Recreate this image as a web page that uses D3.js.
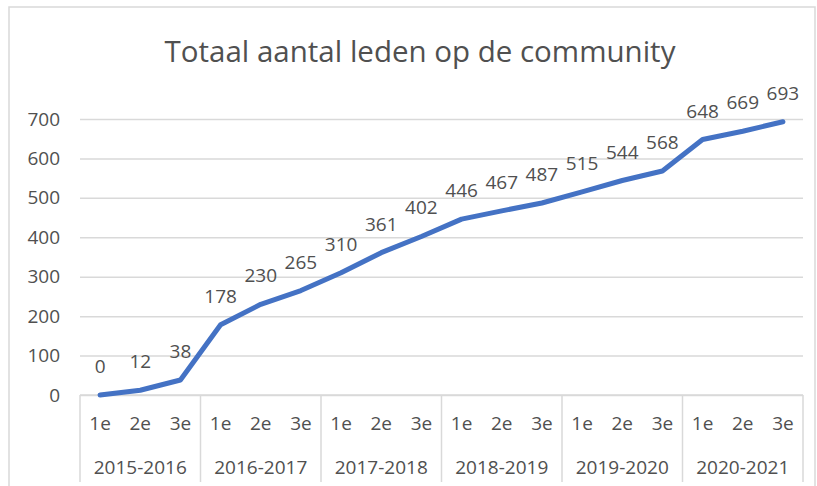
<!DOCTYPE html>
<html>
<head>
<meta charset="utf-8">
<script src="https://cdn.jsdelivr.net/npm/d3@7"></script>
<style>
    body { margin: 0; background: #fff; }
    svg text { font-family: "Open Sans", sans-serif; fill: #505050; }
</style>
</head>
<body>
<svg id="chart" width="817" height="486"></svg>
<script>
const chartTitle = "Totaal aantal leden op de community";
const seasons = ["2015-2016", "2016-2017", "2017-2018", "2018-2019", "2019-2020", "2020-2021"];
const periods = ["1e", "2e", "3e"];
const members = [0, 12, 38, 178, 230, 265, 310, 361, 402, 446, 467, 487, 515, 544, 568, 648, 669, 693];
const yTicks = [0, 100, 200, 300, 400, 500, 600, 700];

let svg = d3.select("#chart");
let margin = {top: 119, right: 14, bottom: 91, left: 80};
let plotRight = 817 - margin.right;
let plotBottom = 486 - margin.bottom;
let gridColor = "#d9d9d9";

// one key per point: season + period
let keys = [];
seasons.forEach(function (s) {
    periods.forEach(function (p) { keys.push(s + "|" + p); });
});
let points = members.map(function (v, i) { return {key: keys[i], value: v}; });

let xBand = d3.scaleBand().domain(keys).range([margin.left, plotRight]);
let xSeason = d3.scaleBand().domain(seasons).range([margin.left, plotRight]);
let y = d3.scaleLinear().domain([0, 700]).range([plotBottom, margin.top]);

// chart border
svg.append("rect")
    .attr("x", 9).attr("y", 7)
    .attr("width", 806).attr("height", 500)
    .attr("fill", "none")
    .attr("stroke", gridColor)
    .attr("stroke-width", 1.5);

svg.append("text")
    .attr("x", 420).attr("y", 62)
    .attr("text-anchor", "middle")
    .style("font-size", "29.5px")
    .text(chartTitle);

// y axis with gridlines
let yAxis = svg.append("g")
    .attr("transform", "translate(" + margin.left + ",0)")
    .call(d3.axisLeft(y).tickValues(yTicks).tickSize(-(plotRight - margin.left)).tickPadding(20));
yAxis.select(".domain").remove();
yAxis.selectAll("line").attr("stroke", gridColor).attr("stroke-width", 1.5);
yAxis.selectAll("text").style("font-size", "19px").attr("fill", "#505050");

// category axis (two levels)
let xAxis = svg.append("g");
xAxis.append("line")
    .attr("x1", margin.left).attr("x2", plotRight)
    .attr("y1", plotBottom).attr("y2", plotBottom)
    .attr("stroke", gridColor).attr("stroke-width", 1.5);

let bounds = seasons.map(function (s) { return xSeason(s); }).concat([plotRight]);
xAxis.selectAll(".sep")
    .data(bounds)
    .enter().append("line")
    .attr("class", "sep")
    .attr("x1", function (d) { return d; }).attr("x2", function (d) { return d; })
    .attr("y1", plotBottom).attr("y2", 482)
    .attr("stroke", gridColor).attr("stroke-width", 1.5);

xAxis.selectAll(".period")
    .data(keys)
    .enter().append("text")
    .attr("class", "period")
    .attr("x", function (d) { return xBand(d) + xBand.bandwidth() / 2; })
    .attr("y", 430)
    .attr("text-anchor", "middle")
    .style("font-size", "19px")
    .text(function (d) { return d.split("|")[1]; });

xAxis.selectAll(".season")
    .data(seasons)
    .enter().append("text")
    .attr("class", "season")
    .attr("x", function (d) { return xSeason(d) + xSeason.bandwidth() / 2; })
    .attr("y", 474)
    .attr("text-anchor", "middle")
    .style("font-size", "19px")
    .text(function (d) { return d; });

// line
let line = d3.line()
    .x(function (d) { return xBand(d.key) + xBand.bandwidth() / 2; })
    .y(function (d) { return y(d.value); });

svg.append("path")
    .datum(points)
    .attr("d", line)
    .attr("fill", "none")
    .attr("stroke", "#4472c4")
    .attr("stroke-width", 5)
    .attr("stroke-linejoin", "round")
    .attr("stroke-linecap", "round");

// data labels
svg.selectAll(".label")
    .data(points)
    .enter().append("text")
    .attr("class", "label")
    .attr("x", function (d) { return xBand(d.key) + xBand.bandwidth() / 2; })
    .attr("y", function (d) { return y(d.value) - 22; })
    .attr("text-anchor", "middle")
    .style("font-size", "19px")
    .text(function (d) { return d.value; });
</script>
</body>
</html>
